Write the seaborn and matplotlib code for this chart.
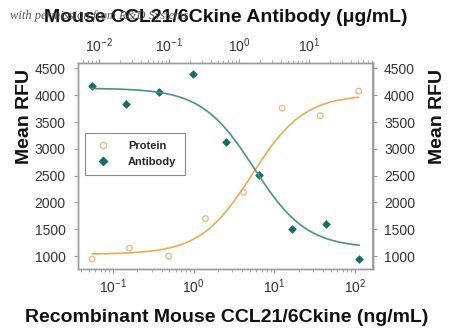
import numpy as np
import pandas as pd
import matplotlib
matplotlib.use("Agg")
import matplotlib.pyplot as plt
import seaborn as sns
from matplotlib.lines import Line2D
from matplotlib.ticker import LogLocator, NullFormatter

# ---- data ----
protein_conc = [0.055, 0.16, 0.49, 1.4, 4.15, 12.5, 37, 111]          # ng/mL (bottom axis)
protein_rfu = [944, 1150, 1000, 1700, 2193, 3758, 3618, 4075]
antibody_conc = [0.0079, 0.024, 0.072, 0.22, 0.65, 1.95, 5.8, 17.5, 52]  # ug/mL (top axis)
antibody_rfu = [4168, 3832, 4056, 4400, 3134, 2509, 1503, 1596, 944]

# 4-parameter logistic fit parameters (bottom, top, EC50/IC50, hill)
protein_fit = dict(bottom=1035, top=4010, mid=5.3, hill=1.35)
antibody_fit = dict(bottom=1150, top=4130, mid=1.64, hill=1.16)

y_ticks = [1000, 1500, 2000, 2500, 3000, 3500, 4000, 4500]

# ---- style ----
sns.set_theme(style="white")
plt.rcParams["font.family"] = ["Liberation Sans", "DejaVu Sans"]
plt.rcParams["mathtext.fontset"] = "custom"
plt.rcParams["mathtext.rm"] = "Liberation Sans"
plt.rcParams["mathtext.it"] = "Liberation Sans:italic"
plt.rcParams["mathtext.bf"] = "Liberation Sans:bold"

ORANGE_LINE = "#e8ae4c"
ORANGE_PT = "#dcc08e"
TEAL_LINE = "#4a918b"
TEAL_PT = "#0f6e67"
SPINE = "#9a9a9a"
TICKTXT = "#333333"

fig = plt.figure(figsize=(4.5, 3.3), dpi=100)
ax = fig.add_axes([78 / 450, 1 - 269 / 330, 295 / 450, 206 / 330])
ax_t = ax.twiny()


def logistic(x, bottom, top, mid, hill):
    x = np.asarray(x, dtype=float)
    return bottom + (top - bottom) / (1 + (mid / x) ** hill)


# fit curves
px = np.logspace(np.log10(protein_conc[0]), np.log10(protein_conc[-1]), 200)
prot_curve = pd.DataFrame({"x": px, "y": logistic(px, **protein_fit)})
ax_x = np.logspace(np.log10(antibody_conc[0]), np.log10(antibody_conc[-1]), 200)
ab = antibody_fit
ab_curve = pd.DataFrame({"x": ax_x,
                         "y": ab["bottom"] + (ab["top"] - ab["bottom"]) / (1 + (ax_x / ab["mid"]) ** ab["hill"])})

prot_df = pd.DataFrame({"conc": protein_conc, "rfu": protein_rfu})
ab_df = pd.DataFrame({"conc": antibody_conc, "rfu": antibody_rfu})

sns.lineplot(data=prot_curve, x="x", y="y", ax=ax, color=ORANGE_LINE, lw=1.2)
sns.scatterplot(data=prot_df, x="conc", y="rfu", ax=ax, marker="o", s=16,
                facecolor="none", edgecolor=ORANGE_PT, linewidth=1.0)

sns.lineplot(data=ab_curve, x="x", y="y", ax=ax_t, color=TEAL_LINE, lw=1.2)
sns.scatterplot(data=ab_df, x="conc", y="rfu", ax=ax_t, marker="D", s=15,
                color=TEAL_PT, edgecolor=TEAL_PT, linewidth=0.5)

ax.set_xscale("log")
ax_t.set_xscale("log")
ax.set_xlim(10 ** -1.434, 10 ** 2.222)
ax_t.set_xlim(10 ** -2.3, 10 ** 1.914)
ax.set_ylim(760, 4600)
ax_t.set_ylim(760, 4600)

for a in (ax, ax_t):
    a.set_xlabel("")
    a.set_ylabel("")
    a.xaxis.set_major_locator(LogLocator(base=10, numticks=10))
    a.xaxis.set_minor_locator(LogLocator(base=10, subs=np.arange(2, 10), numticks=10))
    a.xaxis.set_minor_formatter(NullFormatter())
    for s in a.spines.values():
        s.set_color(SPINE)
        s.set_linewidth(1.0)

ax.set_yticks(y_ticks)
ax.tick_params(axis="y", direction="out", length=3, width=0.8, color=SPINE,
               labelsize=10, labelcolor=TICKTXT, pad=6, left=True)
ax.tick_params(axis="x", which="major", direction="out", length=3, width=0.8,
               color=SPINE, labelsize=10, labelcolor=TICKTXT, pad=3, bottom=True)
ax.tick_params(axis="x", which="minor", direction="out", length=2, width=0.6,
               color=SPINE, bottom=True)
ax_t.tick_params(axis="x", which="major", direction="out", length=3, width=0.8,
                 color=SPINE, labelsize=10, labelcolor=TICKTXT, pad=3, top=True)
ax_t.tick_params(axis="x", which="minor", direction="out", length=2, width=0.6,
                 color=SPINE, top=True)
ax_t.tick_params(axis="y", left=False, right=False, labelleft=False, labelright=False)

sec = ax.secondary_yaxis("right")
sec.set_yticks(y_ticks)
sec.spines["right"].set_color(SPINE)
sec.tick_params(axis="y", direction="out", length=3, width=0.8, color=SPINE,
                labelsize=10, labelcolor=TICKTXT, pad=5)

# legend
handles = [
    Line2D([], [], ls="none", marker="o", ms=4.5, mfc="none", mec=ORANGE_PT, mew=1.0),
    Line2D([], [], ls="none", marker="D", ms=4, mfc=TEAL_PT, mec=TEAL_PT),
]
leg = ax_t.legend(handles, ["Protein", "Antibody"], loc="upper left",
                  bbox_to_anchor=(0.024, 0.66), borderaxespad=0, frameon=True,
                  fancybox=False, edgecolor="#8a8a8a", framealpha=1,
                  prop={"weight": "bold", "size": 8}, handletextpad=1.3,
                  borderpad=0.75, labelspacing=0.5, handlelength=1.8)
leg.get_frame().set_linewidth(0.8)

# labels
fig.text(0.501, 1 - 17 / 330, "Mouse CCL21/6Ckine Antibody (\u03bcg/mL)",
         ha="center", va="center", fontsize=14, fontweight="bold", color="#111111")
fig.text(0.504, 1 - 318 / 330, "Recombinant Mouse CCL21/6Ckine (ng/mL)",
         ha="center", va="center", fontsize=14, fontweight="bold", color="#111111")
fig.text(25 / 450, 1 - 116 / 330, "Mean RFU", rotation=90, ha="center", va="center",
         fontsize=14, fontweight="bold", color="#111111")
fig.text(437 / 450, 1 - 116 / 330, "Mean RFU", rotation=90, ha="center", va="center",
         fontsize=14, fontweight="bold", color="#111111")
fig.text(10 / 450, 1 - 16 / 330, "with permission from R&D Systems", ha="left", va="center",
         fontsize=9, style="italic", family=["Liberation Serif", "DejaVu Serif"],
         color="#555555", zorder=10)

fig.savefig("out.png", dpi=100)
